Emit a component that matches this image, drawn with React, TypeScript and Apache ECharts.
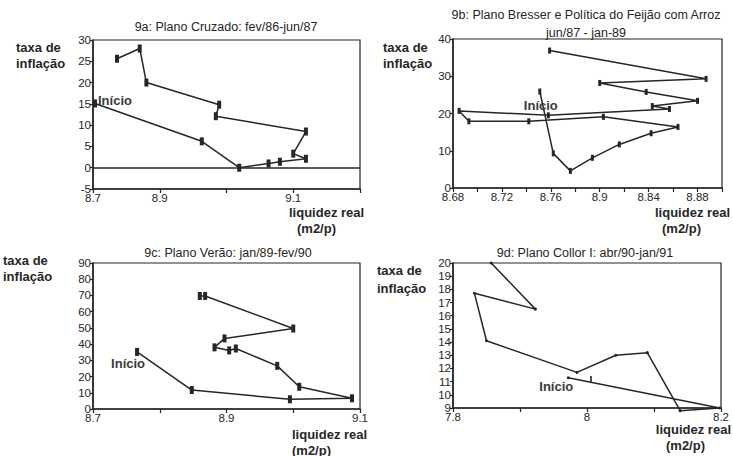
import React, { useEffect, useRef } from 'react';
import * as echarts from 'echarts';

// 9a: Plano Cruzado
const xA = [8.803, 8.963, 9.019, 9.063, 9.08, 9.119, 9.1, 9.119, 8.984, 8.989, 8.88, 8.87, 8.836];
const yA = [15.1, 6.2, 0, 1.0, 1.4, 2.1, 3.3, 8.5, 12.1, 14.8, 20, 28, 25.6];
const xTicksA = ['8.7', '8.9', '', '9.1', ''];

// 9b: Plano Bresser e Política do Feijão com Arroz
const xB = [8.751, 8.762, 8.776, 8.794, 8.816, 8.842, 8.864, 8.803, 8.742, 8.693, 8.685, 8.758, 8.857, 8.843, 8.88, 8.838, 8.8, 8.887, 8.759];
const yB = [25.9, 9.3, 4.6, 8.1, 11.7, 14.7, 16.4, 19.1, 17.9, 17.9, 20.7, 19.5, 21.2, 22.0, 23.4, 25.8, 28.2, 29.3, 36.9];
const xTicksB = ['8.68', '', '8.72', '', '8.76', '', '8.9', '', '8.84', '', '8.88', ''];

// 9c: Plano Verão
const xC = [8.766, 8.848, 8.995, 9.088, 9.009, 8.976, 8.914, 8.904, 8.882, 8.897, 9.0, 8.868, 8.86];
const yC = [35.2, 11.7, 6.0, 6.6, 13.7, 26.6, 37.3, 36.1, 38.0, 43.5, 49.6, 69.7, 69.7];
const xTicksC = ['8.7', '', '8.9', '', '9.1'];

// 9d: Plano Collor I
const xD = [7.972, 8.198, 8.139, 8.09, 8.043, 7.985, 7.85, 7.832, 7.923, 7.857];
const yD = [11.3, 9.0, 8.8, 13.2, 13.0, 11.7, 14.1, 17.7, 16.5, 20.0];
const xTicksD = ['7.8', '', '8', '', '8.2'];
const extraD = [[8.006, 11.2]];

const titles = [
  '9a: Plano Cruzado: fev/86-jun/87',
  '9b: Plano Bresser e Política do Feijão com Arroz',
  'jun/87 - jan-89',
  '9c: Plano Verão: jan/89-fev/90',
  '9d: Plano Collor I: abr/90-jan/91',
];

const ink = '#262626';
const narrow = '"Liberation Sans Narrow", "Arial Narrow", "Liberation Sans", Arial, sans-serif';
const sans = '"Liberation Sans", Arial, Helvetica, sans-serif';

function xAxisCfg(gridIndex: number, min: number, max: number, interval: number, labels: string[]) {
  return {
    type: 'value', gridIndex, min, max, interval,
    axisLine: { show: true, onZero: false, lineStyle: { color: ink, width: 1.6 } },
    axisTick: { show: true, length: 4, lineStyle: { color: ink, width: 1.2 } },
    splitLine: { show: false },
    axisLabel: {
      color: ink, fontFamily: narrow, fontSize: 11.5, margin: 3,
      formatter: (v: number) => labels[Math.round((v - min) / interval)] ?? '',
    },
  };
}

function yAxisCfg(gridIndex: number, min: number, max: number, interval: number) {
  return {
    type: 'value', gridIndex, min, max, interval,
    axisLine: { show: true, onZero: false, lineStyle: { color: ink, width: 1.6 } },
    axisTick: { show: true, length: 3, lineStyle: { color: ink, width: 1.2 } },
    splitLine: { show: false },
    axisLabel: { color: ink, fontFamily: narrow, fontSize: 11.5, margin: 2 },
  };
}

function lineSeries(idx: number, xs: number[], ys: number[], symbol: string, size: any, startLabel: any) {
  return {
    type: 'line', xAxisIndex: idx, yAxisIndex: idx, clip: false,
    symbol, symbolSize: size, showSymbol: true,
    lineStyle: { color: ink, width: 1.5 },
    itemStyle: { color: ink },
    data: xs.map((x, i) =>
      i === 0
        ? {
            value: [x, ys[i]],
            label: {
              show: true, formatter: 'Início', fontFamily: sans, fontWeight: 'bold',
              fontSize: 13, color: '#3a3a3a', ...startLabel,
            },
          }
        : [x, ys[i]]
    ),
  };
}

function txt(x: number, y: number, text: string, opts: any = {}) {
  return {
    type: 'text', x, y, silent: true,
    style: {
      text, fill: ink, font: `bold 13px ${sans}`,
      textAlign: 'left', textVerticalAlign: 'middle', align: 'left', verticalAlign: 'middle',
      lineHeight: 16, ...opts,
    },
  };
}

function title(x: number, y: number, text: string) {
  return txt(x, y, text, {
    font: `12.5px ${sans}`, textAlign: 'center', align: 'center',
  });
}

export default function App() {
  const ref = useRef<HTMLDivElement>(null);
  useEffect(() => {
    if (!ref.current) return;
    const chart = echarts.init(ref.current, null, { renderer: 'svg' });
    const gridBase = { show: true, borderColor: ink, borderWidth: 1.2, containLabel: false };
    chart.setOption({
      animation: false,
      backgroundColor: '#ffffff',
      grid: [
        { ...gridBase, left: 93, top: 40, width: 267, height: 149 },
        { ...gridBase, left: 453, top: 39, width: 269, height: 149 },
        { ...gridBase, left: 93, top: 263, width: 267, height: 146 },
        { ...gridBase, left: 453, top: 263, width: 268, height: 145 },
      ],
      xAxis: [
        xAxisCfg(0, 8.8, 9.2, 0.1, xTicksA),
        xAxisCfg(1, 8.68, 8.9, 0.02, xTicksB),
        xAxisCfg(2, 8.7, 9.1, 0.1, xTicksC),
        xAxisCfg(3, 7.8, 8.2, 0.1, xTicksD),
      ],
      yAxis: [
        yAxisCfg(0, -5, 30, 5),
        yAxisCfg(1, 0, 40, 10),
        yAxisCfg(2, 0, 90, 10),
        yAxisCfg(3, 9, 20, 1),
      ],
      series: [
        {
          ...lineSeries(0, xA, yA, 'rect', [4, 8], { position: 'right', distance: 1, offset: [0, -3] }),
          markLine: {
            silent: true, symbol: ['none', 'none'], label: { show: false },
            lineStyle: { color: ink, width: 1.5, type: 'solid' },
            data: [{ yAxis: 0 }],
          },
        },
        lineSeries(1, xB, yB, 'rect', [3, 6], { position: 'bottom', distance: 4, offset: [1, 0] }),
        lineSeries(2, xC, yC, 'rect', [4, 8], { position: 'bottom', distance: 1, offset: [-9, 0] }),
        lineSeries(3, xD, yD, 'circle', 3, { position: 'bottom', distance: 1, offset: [-12, 0] }),
        {
          type: 'scatter', xAxisIndex: 3, yAxisIndex: 3, symbol: 'rect', symbolSize: [2, 6],
          itemStyle: { color: ink }, data: extraD,
        },
      ],
      graphic: [
        title(226, 27, titles[0]),
        title(586, 15, titles[1]),
        title(586, 33, titles[2]),
        title(228, 253, titles[3]),
        title(585, 253, titles[4]),
        txt(16, 47, 'taxa de'),
        txt(16, 63, 'inflação'),
        txt(383, 47, 'taxa de'),
        txt(383, 63, 'inflação'),
        txt(3, 260, 'taxa de'),
        txt(3, 276, 'inflação'),
        txt(377, 270, 'taxa de'),
        txt(377, 288, 'inflação'),
        txt(289, 212, 'liquidez real'),
        txt(297, 228, '(m2/p)'),
        txt(655, 212, 'liquidez real'),
        txt(662, 228, '(m2/p)'),
        txt(292, 434, 'liquidez real'),
        txt(292, 450, '(m2/p)'),
        txt(731, 429, 'liquidez real', { textAlign: 'right', align: 'right' }),
        txt(666, 445, '(m2/p)'),
      ],
    });
    return () => chart.dispose();
  }, []);
  return (
    <div
      ref={ref}
      style={{ position: 'fixed', left: 0, top: 0, width: 733, height: 456, background: '#fff' }}
    />
  );
}
